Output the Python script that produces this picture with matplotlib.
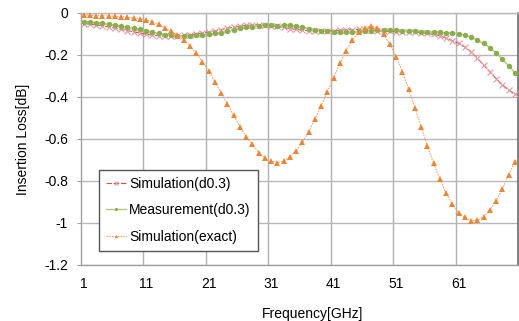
import matplotlib
matplotlib.use("Agg")
import matplotlib.pyplot as plt
import numpy as np

plt.rcParams['font.family'] = ['Liberation Sans', 'DejaVu Sans']
plt.rcParams['axes.unicode_minus'] = False

freq = list(range(1, 71))

sim_d03 = [-0.050, -0.053, -0.057, -0.061, -0.066, -0.072, -0.078, -0.084, -0.090, -0.096,
           -0.101, -0.105, -0.108, -0.110, -0.110, -0.109, -0.107, -0.104, -0.100, -0.095,
           -0.090, -0.085, -0.079, -0.073, -0.068, -0.063, -0.059, -0.057, -0.056, -0.057,
           -0.060, -0.064, -0.069, -0.074, -0.078, -0.082, -0.085, -0.087, -0.087, -0.086,
           -0.084, -0.082, -0.080, -0.079, -0.078, -0.079, -0.080, -0.084, -0.086, -0.088,
           -0.089, -0.090, -0.091, -0.092, -0.094, -0.097, -0.102, -0.108, -0.120, -0.132,
           -0.145, -0.162, -0.185, -0.216, -0.248, -0.280, -0.312, -0.342, -0.366, -0.387]

meas_d03 = [-0.041, -0.044, -0.047, -0.049, -0.054, -0.059, -0.062, -0.068, -0.073, -0.078,
            -0.084, -0.091, -0.097, -0.103, -0.106, -0.108, -0.109, -0.109, -0.107, -0.104,
            -0.100, -0.097, -0.093, -0.088, -0.079, -0.073, -0.068, -0.065, -0.061, -0.058,
            -0.056, -0.061, -0.058, -0.057, -0.061, -0.067, -0.074, -0.080, -0.086, -0.088,
            -0.092, -0.092, -0.092, -0.090, -0.088, -0.086, -0.084, -0.083, -0.082, -0.082,
            -0.083, -0.084, -0.086, -0.087, -0.089, -0.090, -0.091, -0.092, -0.094, -0.095,
            -0.098, -0.105, -0.116, -0.129, -0.145, -0.165, -0.190, -0.220, -0.252, -0.284]

sim_exact = [-0.010, -0.011, -0.012, -0.013, -0.014, -0.016, -0.018, -0.020, -0.023, -0.027,
             -0.033, -0.041, -0.054, -0.070, -0.088, -0.106, -0.127, -0.157, -0.190, -0.232,
             -0.278, -0.328, -0.381, -0.435, -0.486, -0.541, -0.589, -0.625, -0.665, -0.690,
             -0.705, -0.712, -0.705, -0.684, -0.657, -0.616, -0.565, -0.505, -0.443, -0.375,
             -0.308, -0.240, -0.181, -0.129, -0.092, -0.070, -0.060, -0.073, -0.102, -0.149,
             -0.208, -0.279, -0.364, -0.451, -0.541, -0.632, -0.716, -0.790, -0.859, -0.911,
             -0.951, -0.973, -0.990, -0.986, -0.970, -0.938, -0.894, -0.840, -0.771, -0.708]

xtick_labels = ['1', '11', '21', '31', '41', '51', '61']
ytick_vals = [0, -0.2, -0.4, -0.6, -0.8, -1.0, -1.2]
ytick_labels = ['0', '-0.2', '-0.4', '-0.6', '-0.8', '-1', '-1.2']

fig = plt.figure(figsize=(5.19, 3.21), dpi=100)
ax = fig.add_axes([80.5/519, 1-265/321, (518-80.5)/519, (265-13)/321])

ax.plot(freq, sim_d03, color='#c8585c', lw=0.8, ls=(0, (5, 1.5)), marker='x', ms=4.2, mew=0.8,
        mec='#e39aa2', label='Simulation(d0.3)', zorder=3)
ax.plot(freq, meas_d03, color='#b0c98a', lw=1.0, ls='-', marker='o', ms=3.9, mew=0,
        mfc='#8cad4c', label='Measurement(d0.3)', zorder=4)
ax.plot(freq, sim_exact, color='#f0a870', lw=0.8, ls=(0, (1.5, 1)), marker='^', ms=4.0, mew=0,
        mfc='#e8873a', label='Simulation(exact)', zorder=5)

ax.set_xlim(0.5, 70.5)
ax.set_ylim(-1.2, 0)

ax.set_xticks([int(t) for t in xtick_labels])
ax.set_xticklabels(xtick_labels, fontsize=10)
ax.set_xticks(np.arange(10.5, 70, 10), minor=True)
ax.tick_params(axis='x', which='both', length=0, pad=9)
ax.grid(True, axis='x', which='minor', color='#b0b0b0', lw=1)

ax.set_yticks(ytick_vals)
ax.set_yticklabels(ytick_labels, fontsize=10)
ax.tick_params(axis='y', which='major', length=3, color='#a0a0a0', pad=6)
ax.grid(True, axis='y', which='major', color='#b8b8b8', lw=1)
ax.set_axisbelow(True)

for s in ['left', 'bottom']:
    ax.spines[s].set_color('#a0a0a0')
    ax.spines[s].set_linewidth(1)
ax.spines['top'].set_color('#b8b8b8')
ax.spines['top'].set_linewidth(1)
ax.spines['right'].set_color('#6a6a6a')
ax.spines['right'].set_linewidth(1.2)

ax.set_ylabel('Insertion Loss[dB]', fontsize=10, labelpad=10)
ax.set_xlabel('Frequency[GHz]', fontsize=10, labelpad=10)
ax.xaxis.set_label_coords(0.531, -0.165)

leg = ax.legend(loc='lower left', bbox_to_anchor=(0.0416, 0.0567), fontsize=10,
                frameon=True, fancybox=False, framealpha=1, edgecolor='#555555',
                handlelength=1.5, handletextpad=0.2, labelspacing=0.9, borderpad=0.5,
                markerscale=0.6, borderaxespad=0)
leg.get_frame().set_linewidth(1)

fig.savefig('out.png', dpi=100)
